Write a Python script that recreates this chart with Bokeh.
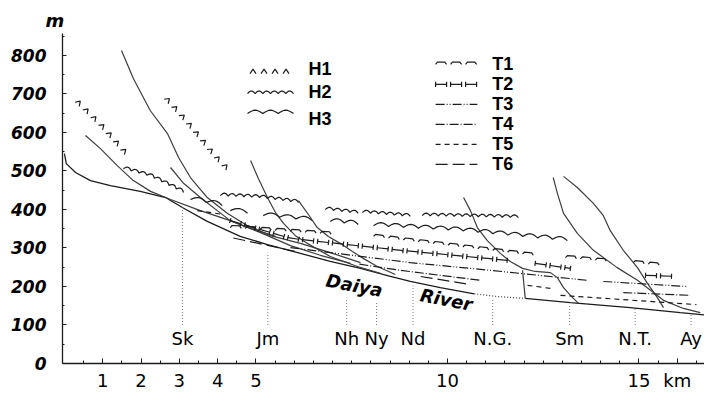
import numpy as np
from bokeh.plotting import figure
from bokeh.models import FixedTicker, Range1d
from bokeh.embed import file_html
from bokeh.resources import INLINE
from bokeh.core.properties import value

# ---------------- data: distance along valley (km) / elevation (m) ----------------
river_km = [0.0, 0.05, 0.29, 0.68, 1.20, 1.98, 2.64, 3.08, 3.73, 4.59, 5.30, 6.16, 6.94, 7.73, 8.51, 9.03, 9.81, 10.70]
river_m = [545, 519, 496, 475, 462, 447, 431, 405, 369, 330, 309, 286, 265, 247, 226, 213, 197, 181]
river_dot_km = [10.70, 11.30, 12.03]
river_dot_m = [181, 174, 169]
river_low_km = [12.03, 13.21, 14.77, 16.08, 16.71]
river_low_m = [169, 158, 145, 132, 126]

trib_km = [
    [0.55, 0.94, 1.38, 1.80, 2.25, 2.77, 3.55, 4.33, 5.12, 5.90, 6.68, 7.47],
    [1.49, 1.80, 2.24, 2.69, 2.98, 3.29, 3.73, 4.25, 4.78, 5.38, 6.16, 6.94, 7.73],
    [2.77, 3.11, 3.55, 3.99, 4.33, 4.86, 5.51],
    [4.86, 5.06, 5.30, 5.51, 5.72, 6.03, 6.34, 6.94, 7.65, 8.25],
    [6.11, 6.37, 6.60, 6.89, 7.20, 7.52, 7.80, 8.17, 8.64],
    [10.42, 10.60, 10.78, 11.04, 11.38, 11.64, 11.96, 12.29, 12.69, 12.87, 13.03, 13.21, 13.42],
    [11.96, 12.03],
    [12.76, 12.87, 13.03, 13.39, 13.81, 14.43, 14.96, 15.30, 15.64, 16.16, 16.60],
    [13.03, 13.39, 13.81, 14.07, 14.25, 14.59, 14.96, 15.22, 15.48, 15.64],
]
trib_m = [
    [592, 558, 514, 475, 447, 426, 397, 371, 340, 306, 281, 260],
    [813, 740, 657, 597, 535, 483, 431, 390, 358, 332, 312, 288, 262],
    [509, 468, 431, 397, 371, 351, 330],
    [527, 481, 431, 392, 364, 332, 312, 278, 252, 234],
    [423, 387, 353, 330, 312, 291, 273, 252, 231],
    [431, 397, 353, 319, 286, 265, 247, 239, 236, 223, 197, 177, 156],
    [242, 169],
    [483, 442, 390, 338, 294, 249, 216, 190, 164, 143, 132],
    [486, 457, 416, 384, 345, 294, 249, 208, 171, 145],
]

# terrace surfaces
h1_km = [[0.23, 0.94, 1.59], [2.56, 3.03, 3.47, 3.89, 4.28]]
h1_m = [[683, 613, 540], [691, 639, 587, 535, 496]]
h2_km = [[1.54, 2.25, 3.11], [4.07, 5.12, 6.11], [6.81, 7.67], [7.78, 9.03], [9.34, 11.85]]
h2_m = [[506, 486, 444], [436, 431, 418], [400, 390], [392, 382], [384, 379]]
h3_km = [[3.29, 4.12], [4.33, 4.78], [5.19, 6.47], [6.94, 7.67], [8.07, 10.34, 13.13]]
h3_m = [[426, 410], [397, 390], [384, 371], [369, 361], [358, 345, 319]]
t1_km = [[4.33, 7.13], [8.07, 12.24], [13.08, 14.25], [14.85, 15.56]]
t1_m = [[353, 335], [330, 281], [275, 265], [262, 255]]
t2_km = [[4.33, 5.90, 8.77, 11.56], [12.29, 13.21], [15.17, 16.00]]
t2_m = [[371, 325, 294, 268], [260, 247], [229, 226]]
t3_km = [[5.90, 9.03, 11.12, 13.65], [14.07, 16.26]]
t3_m = [[301, 262, 242, 216], [213, 200]]
t4_km = [[7.70, 8.77, 10.86], [14.59, 16.34]]
t4_m = [[258, 242, 216], [184, 177]]
t5_km = [[3.47, 4.15], [12.09, 12.69], [12.95, 16.50]]
t5_m = [[397, 387], [203, 195], [177, 153]]
t6_km = [[4.41, 6.08], [9.30, 10.60]]
t6_m = [[326, 290], [226, 205]]

site_names = ["Sk", "Jm", "Nh", "Ny", "Nd", "N.G.", "Sm", "N.T.", "Ay"]
site_km = [3.08, 5.31, 7.37, 8.15, 9.10, 11.18, 13.19, 14.90, 16.36]
site_top_m = [405, 288, 171, 158, 203, 169, 151, 145, 130]

river_names = ["Daiya", "River"]
river_name_km = [7.57, 9.97]
river_name_m = [203, 166]

x_labelled = [1, 2, 3, 4, 5, 10, 15]
y_ticks = [0, 100, 200, 300, 400, 500, 600, 700, 800]

legend_h_names = ["H1", "H2", "H3"]
legend_t_names = ["T1", "T2", "T3", "T4", "T5", "T6"]

# ---------------- geometry helpers (screen-scale aware patterns) ----------------
X0, X1 = -0.05, 16.71
Y0, Y1 = 0, 857
FW, FH = 642, 330
SX = FW / (X1 - X0)
SY = FH / (Y1 - Y0)


def _prep(kms, ms):
    px = (np.asarray(kms, float) - X0) * SX
    py = (np.asarray(ms, float) - Y0) * SY
    seg = np.hypot(np.diff(px), np.diff(py))
    cum = np.concatenate([[0.0], np.cumsum(seg)])
    return px, py, cum


def _at(g, s):
    px, py, cum = g
    i = int(np.clip(np.searchsorted(cum, s, side="right") - 1, 0, len(px) - 2))
    L = cum[i + 1] - cum[i]
    f = (s - cum[i]) / L if L > 0 else 0.0
    dx, dy = px[i + 1] - px[i], py[i + 1] - py[i]
    return px[i] + f * dx, py[i] + f * dy, dx / L, dy / L


def _back(pts):
    return [q[0] / SX + X0 for q in pts], [q[1] / SY + Y0 for q in pts]


def caret_marks(kms, ms, step=11.0, half=3.0, h=4.5):
    g = _prep(kms, ms)
    L = g[2][-1]
    out = []
    for s in np.arange(step / 2, L, step):
        x, y, tx, ty = _at(g, s)
        nx, ny = -ty, tx
        out.append(_back([(x - half * tx, y - half * ty), (x + h * nx, y + h * ny),
                          (x + half * tx, y + half * ty)]))
    return out


def arch_line(kms, ms, period, amp):
    g = _prep(kms, ms)
    L = g[2][-1]
    n = max(1, int(round(L / period)))
    per = L / n
    pts = []
    for s in np.linspace(0, L, n * 8 + 1):
        x, y, tx, ty = _at(g, min(s, L - 1e-9))
        off = amp * abs(np.sin(np.pi * s / per))
        pts.append((x - ty * off, y + tx * off))
    return [_back(pts)]


def arc_dashes(kms, ms, dash=11.0, gap=4.0, h=2.2):
    g = _prep(kms, ms)
    L = g[2][-1]
    out = []
    for s0 in np.arange(0, L - dash * 0.5, dash + gap):
        s1 = min(s0 + dash, L - 1e-9)
        pts = []
        for s, o in zip([s0, s0 + 1.8, s1 - 1.8, s1], [0, h, h, 0]):
            x, y, tx, ty = _at(g, s)
            pts.append((x - ty * o, y + tx * o))
        out.append(_back(pts))
    return out


def bar_dashes(kms, ms, dash=11.0, gap=4.0, b=2.6):
    g = _prep(kms, ms)
    L = g[2][-1]
    out = []
    for s0 in np.arange(0, L - dash * 0.5, dash + gap):
        s1 = min(s0 + dash, L - 1e-9)
        xa, ya, tx, ty = _at(g, s0)
        xb, yb, _, _ = _at(g, s1)
        out.append(_back([(xa, ya), (xb, yb)]))
        for (x, y) in [(xa, ya), (xb, yb)]:
            out.append(_back([(x + ty * b, y - tx * b), (x - ty * b, y + tx * b)]))
    return out


def collect(fn, kms_list, ms_list, **kw):
    xs, ys = [], []
    for k, m in zip(kms_list, ms_list):
        for a, c in fn(k, m, **kw):
            xs.append(a)
            ys.append(c)
    return xs, ys


# ---------------- figure ----------------
p = figure(frame_width=FW, frame_height=FH, x_range=Range1d(X0, X1), y_range=Range1d(Y0, Y1),
           output_backend="svg", toolbar_location=None, title="m",
           min_border_left=62, min_border_right=0, min_border_top=33, min_border_bottom=20)
p.xgrid.visible = False
p.ygrid.visible = False
p.outline_line_color = None
p.background_fill_color = "white"
p.border_fill_color = "white"

p.title.align = "left"
p.title.offset = -17
p.title.standoff = 6
p.title.text_font = "DejaVu Sans"
p.title.text_font_style = "bold italic"
p.title.text_font_size = "18px"
p.title.text_color = "black"

ink = "#1c1c1c"
gray = "#3d3d3d"

# axes
p.xaxis.ticker = FixedTicker(ticks=x_labelled + [16], minor_ticks=list(np.arange(0.5, 16.6, 0.5)))
p.xaxis.major_label_overrides = {16: "km"}
p.xaxis.major_tick_in = 5
p.xaxis.major_tick_out = 0
p.xaxis.minor_tick_in = 3
p.xaxis.minor_tick_out = 0
p.xaxis.major_label_standoff = 6
p.xaxis.major_label_text_font = "DejaVu Sans"
p.xaxis.major_label_text_font_size = "18px"
p.xaxis.major_label_text_color = "black"
p.xaxis.axis_line_width = 1.3
p.xaxis.axis_line_color = ink
p.xaxis.major_tick_line_color = ink
p.xaxis.minor_tick_line_color = ink

p.yaxis.ticker = FixedTicker(ticks=y_ticks, minor_ticks=list(range(50, 860, 50)))
p.yaxis.major_tick_in = 4
p.yaxis.major_tick_out = 0
p.yaxis.minor_tick_in = 2
p.yaxis.minor_tick_out = 0
p.yaxis.major_label_standoff = 16
p.yaxis.major_label_text_font = "DejaVu Sans"
p.yaxis.major_label_text_font_style = "bold italic"
p.yaxis.major_label_text_font_size = "17px"
p.yaxis.major_label_text_color = "black"
p.yaxis.axis_line_width = 1.3
p.yaxis.axis_line_color = ink
p.yaxis.major_tick_line_color = ink
p.yaxis.minor_tick_line_color = ink

# river and tributaries
p.line(river_km, river_m, line_color=ink, line_width=1.3)
p.line(river_dot_km, river_dot_m, line_color=gray, line_width=1.2, line_dash="1 2")
p.line(river_low_km, river_low_m, line_color=ink, line_width=1.3)
p.multi_line(trib_km, trib_m, line_color=gray, line_width=1.2)

# site dotted markers
p.segment(x0=site_km, y0=[100] * len(site_km), x1=site_km, y1=site_top_m,
          line_color="#777777", line_width=1, line_dash="1 2")
p.text(x=site_km, y=[65] * len(site_km), text=site_names, text_font=value("DejaVu Sans"),
       text_font_size="18px", text_align="center", text_baseline="middle", text_color="black")

p.text(x=river_name_km, y=river_name_m, text=river_names, angle=-0.19,
       text_font=value("DejaVu Sans"), text_font_style="bold italic", text_font_size="18px",
       text_align="center", text_baseline="middle", text_color="black")


# terraces
def draw_terraces(h1k, h1m, h2k, h2m, h3k, h3m, t1k, t1m, t2k, t2m, t3k, t3m, t4k, t4m, t5k, t5m, t6k, t6m):
    xs, ys = collect(caret_marks, h1k, h1m)
    p.multi_line(xs, ys, line_color=ink, line_width=1.2)
    xs, ys = collect(arch_line, h2k, h2m, period=8.0, amp=2.6)
    p.multi_line(xs, ys, line_color=ink, line_width=1.2)
    xs, ys = collect(arch_line, h3k, h3m, period=15.0, amp=3.4)
    p.multi_line(xs, ys, line_color=ink, line_width=1.2)
    xs, ys = collect(arc_dashes, t1k, t1m)
    p.multi_line(xs, ys, line_color=ink, line_width=1.2)
    xs, ys = collect(bar_dashes, t2k, t2m)
    p.multi_line(xs, ys, line_color=ink, line_width=1.2)
    p.multi_line(t3k, t3m, line_color=ink, line_width=1.2, line_dash="9 2 1 2 1 2")
    p.multi_line(t4k, t4m, line_color=ink, line_width=1.2, line_dash="9 2 1 2")
    p.multi_line(t5k, t5m, line_color=ink, line_width=1.2, line_dash="5 4")
    p.multi_line(t6k, t6m, line_color=ink, line_width=1.2, line_dash="12 5")


draw_terraces(h1_km, h1_m, h2_km, h2_m, h3_km, h3_m, t1_km, t1_m, t2_km, t2_m,
              t3_km, t3_m, t4_km, t4_m, t5_km, t5_m, t6_km, t6_m)

# legend (samples drawn in the plot area)
LH_X, LH_TX = [4.78, 5.98], 6.37
LH_Y = [753, 701, 649]
LH_TY = [766, 704, 636]
LT_X, LT_TX = [9.69, 10.78], 11.17
LT_Y = [777, 725, 673, 621, 569, 517]

lhx = [[list(LH_X)] for _ in LH_Y]
lhy = [[[yv, yv]] for yv in LH_Y]
ltx = [[list(LT_X)] for _ in LT_Y]
lty = [[[yv, yv]] for yv in LT_Y]
draw_terraces(lhx[0], lhy[0], lhx[1], lhy[1], lhx[2], lhy[2],
              ltx[0], lty[0], ltx[1], lty[1], ltx[2], lty[2],
              ltx[3], lty[3], ltx[4], lty[4], ltx[5], lty[5])

p.text(x=[LH_TX] * 3, y=LH_TY, text=legend_h_names, text_font=value("Liberation Sans"),
       text_font_style="bold", text_font_size="18px", text_align="left", text_baseline="middle",
       text_color="black")
p.text(x=[LT_TX] * 6, y=LT_Y, text=legend_t_names, text_font=value("Liberation Sans"),
       text_font_style="bold", text_font_size="18px", text_align="left", text_baseline="middle",
       text_color="black")

open("out.html", "w").write(file_html(p, INLINE))
